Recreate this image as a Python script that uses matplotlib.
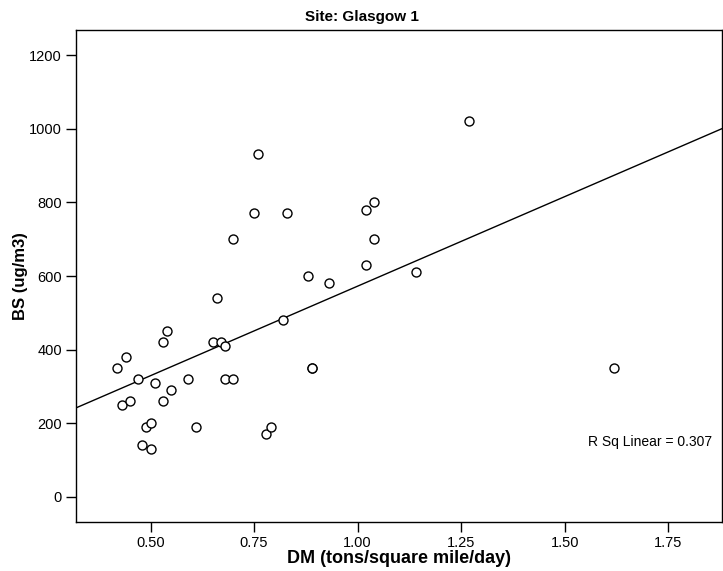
import numpy as np
import matplotlib.pyplot as plt

plt.rcParams['font.family'] = ['Liberation Sans', 'DejaVu Sans']

# Dustfall (DM) vs black smoke (BS) readings for the site
dm = [0.42, 0.44, 0.43, 0.45, 0.47, 0.48, 0.49, 0.50, 0.50, 0.51,
      0.53, 0.54, 0.53, 0.55, 0.59, 0.61, 0.65, 0.66, 0.67, 0.68,
      0.68, 0.70, 0.70, 0.75, 0.76, 0.78, 0.79, 0.83, 0.82, 0.88,
      0.89, 0.89, 0.93, 1.02, 1.04, 1.02, 1.04, 1.14, 1.27, 1.62]
bs = [350, 380, 250, 260, 320, 140, 190, 200, 130, 310,
      420, 450, 260, 290, 320, 190, 420, 540, 420, 410,
      320, 320, 700, 770, 930, 170, 190, 770, 480, 600,
      350, 350, 580, 780, 800, 630, 700, 610, 1020, 350]

x_ticks = [0.50, 0.75, 1.00, 1.25, 1.50, 1.75]
y_ticks = [0, 200, 400, 600, 800, 1000, 1200]
x_range = (0.32, 1.88)
y_range = (-68, 1268)

dm = np.array(dm)
bs = np.array(bs)

# least-squares fit line
slope, intercept = np.polyfit(dm, bs, 1)

fig = plt.figure(figsize=(7.23, 5.71), dpi=100)
ax = fig.add_axes([76 / 723, 49 / 571, 646 / 723, 492 / 571])

ax.scatter(dm, bs, s=42, facecolors='white', edgecolors='black', linewidths=1.0, zorder=3)

xs = np.array(x_range)
ax.plot(xs, intercept + slope * xs, color='black', linewidth=1.0, zorder=2)

ax.text(1.855, 149, 'R Sq Linear = 0.307', ha='right', va='center', fontsize=10)

ax.set_xlim(*x_range)
ax.set_ylim(*y_range)
ax.set_xticks(x_ticks)
ax.set_xticklabels([f'{t:.2f}' for t in x_ticks])
ax.set_yticks(y_ticks)
ax.tick_params(direction='out', length=7, width=1, labelsize=10.5, pad=3)

for s in ax.spines.values():
    s.set_linewidth(1.0)

fig.suptitle('Site: Glasgow 1', x=0.5, y=1 - 17 / 571, va='center', fontsize=11, fontweight='bold')
ax.set_xlabel('DM (tons/square mile/day)', fontsize=13, fontweight='bold', labelpad=0)
ax.set_ylabel('BS (ug/m3)', fontsize=12, fontweight='bold', labelpad=1)

fig.savefig('out.png', dpi=100)
